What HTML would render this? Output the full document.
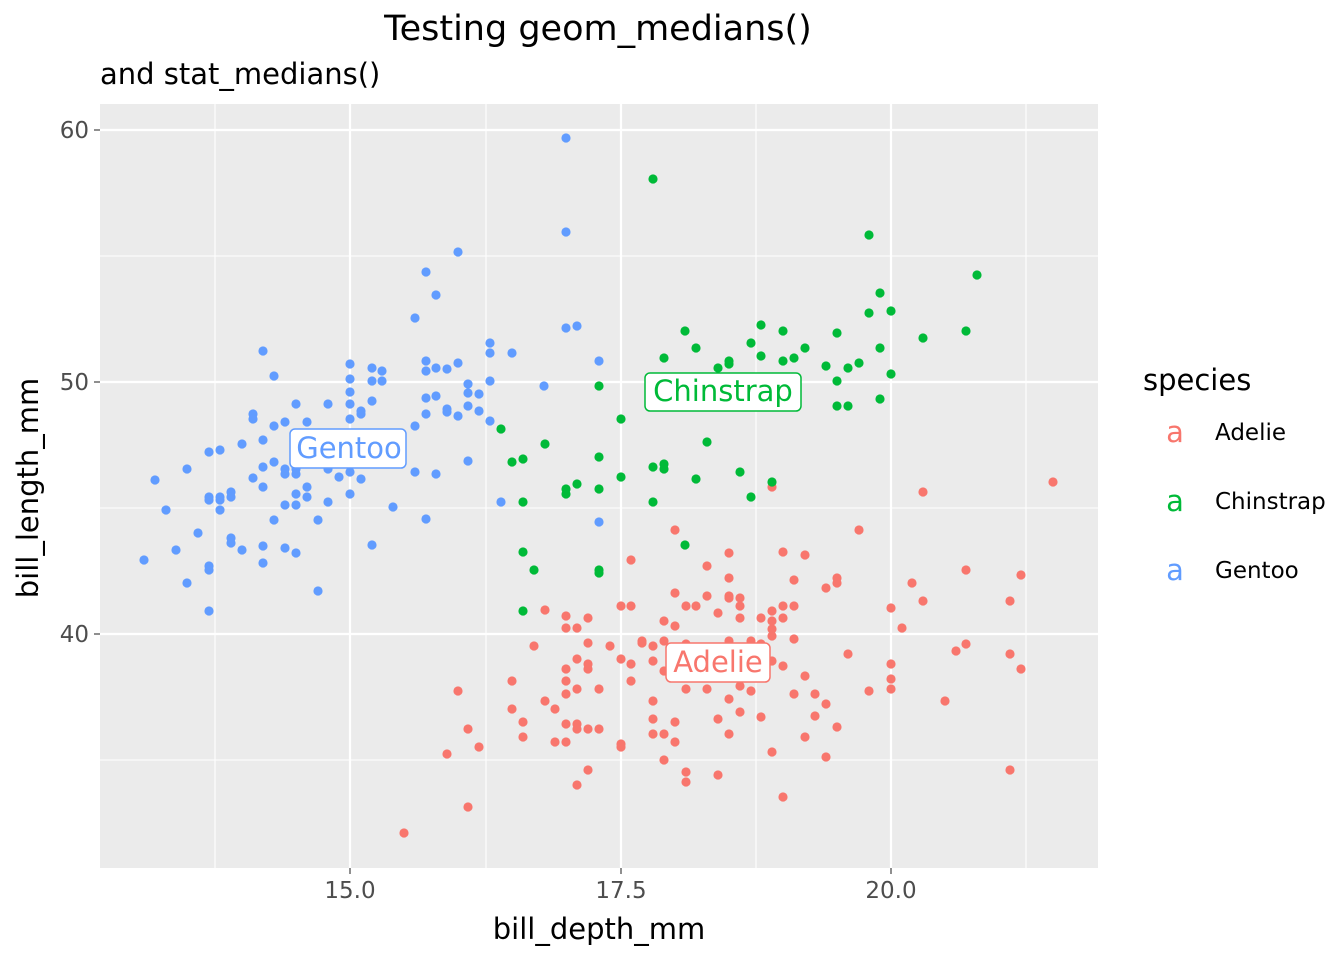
<!DOCTYPE html>
<html><head><meta charset="utf-8"><style>
html,body{margin:0;padding:0;background:#fff}
svg text{font-family:"DejaVu Sans","Liberation Sans",sans-serif}
</style></head><body>
<svg id="s" width="1344" height="960" xmlns="http://www.w3.org/2000/svg">
<rect width="1344" height="960" fill="#fff"/>
<rect x="100" y="104" width="998" height="764" fill="#EBEBEB"/>
<g stroke="#fff" stroke-width="1.1">
<line x1="215" x2="215" y1="104" y2="868"/><line x1="486" x2="486" y1="104" y2="868"/>
<line x1="756" x2="756" y1="104" y2="868"/><line x1="1026" x2="1026" y1="104" y2="868"/>
<line x1="100" x2="1098" y1="256" y2="256"/><line x1="100" x2="1098" y1="508" y2="508"/><line x1="100" x2="1098" y1="760" y2="760"/>
</g>
<g stroke="#fff" stroke-width="2.2">
<line x1="350" x2="350" y1="104" y2="868"/><line x1="621" x2="621" y1="104" y2="868"/><line x1="891" x2="891" y1="104" y2="868"/>
<line x1="100" x2="1098" y1="130" y2="130"/><line x1="100" x2="1098" y1="382" y2="382"/><line x1="100" x2="1098" y1="634" y2="634"/>
</g>
<g id="pts"></g>
<g font-size="29">
<rect x="290" y="429" width="116" height="39" rx="5" fill="#fff" stroke="#619CFF" stroke-width="1.5"/>
<text x="349" y="458" text-anchor="middle" fill="#619CFF">Gentoo</text>
<rect x="645" y="373" width="156" height="38" rx="5" fill="#fff" stroke="#00BA38" stroke-width="1.5"/>
<text x="723" y="401" text-anchor="middle" fill="#00BA38">Chinstrap</text>
<rect x="666" y="643" width="104" height="39" rx="5" fill="#fff" stroke="#F8766D" stroke-width="1.5"/>
<text x="718" y="672" text-anchor="middle" fill="#F8766D">Adelie</text>
</g>
<g stroke="#333" stroke-width="1.1">
<line x1="350" x2="350" y1="868" y2="874"/><line x1="621" x2="621" y1="868" y2="874"/><line x1="891" x2="891" y1="868" y2="874"/>
<line x1="94" x2="100" y1="130" y2="130"/><line x1="94" x2="100" y1="382" y2="382"/><line x1="94" x2="100" y1="634" y2="634"/>
</g>
<g font-size="23" fill="#4D4D4D">
<text x="350" y="898" text-anchor="middle">15.0</text><text x="621" y="898" text-anchor="middle">17.5</text><text x="891" y="898" text-anchor="middle">20.0</text>
<text x="89" y="138" text-anchor="end">60</text><text x="89" y="390" text-anchor="end">50</text><text x="89" y="642" text-anchor="end">40</text>
</g>
<text x="599" y="939" font-size="29" text-anchor="middle">bill_depth_mm</text>
<text transform="translate(38,488) rotate(-90)" font-size="29" text-anchor="middle">bill_length_mm</text>
<text x="598" y="40" font-size="35" text-anchor="middle">Testing geom_medians()</text>
<text x="100" y="84" font-size="29">and stat_medians()</text>
<text x="1143" y="390" font-size="29">species</text>
<g font-size="29">
<text x="1175" y="442" text-anchor="middle" fill="#F8766D">a</text>
<text x="1175" y="511" text-anchor="middle" fill="#00BA38">a</text>
<text x="1175" y="580" text-anchor="middle" fill="#619CFF">a</text>
</g>
<g font-size="23">
<text x="1215" y="440">Adelie</text><text x="1215" y="509">Chinstrap</text><text x="1215" y="578">Gentoo</text>
</g>
</svg>
<script>
var G=[144,560,155,480,166,510,176,550,187,469,187,583,198,533,209,452,209,497,209,500,209,566,209,570,209,611,220,450,220,500,220,510,220,497,231,492,231,497,231,538,231,543,242,444,242,550,253,414,253,419,253,478,263,351,263,440,263,467,263,487,263,546,263,563,274,376,274,426,274,462,274,520,285,422,285,469,285,474,285,505,285,548,296,404,296,469,296,474,296,494,296,505,296,553,307,422,307,487,307,497,318,520,318,591,328,404,328,469,328,502,339,447,339,449,339,477,350,364,350,379,350,392,350,404,350,419,350,472,350,494,361,414,361,411,361,479,372,368,372,381,372,401,372,545,382,371,382,381,393,507,415,318,415,426,415,472,426,272,426,361,426,371,426,414,426,398,426,519,436,295,436,368,436,474,436,396,447,369,447,409,447,412,458,252,458,363,458,416,468,384,468,393,468,406,468,461,479,394,479,411,490,343,490,353,490,381,490,421,501,502,512,353,544,386,566,138,566,232,566,328,577,326,599,361,599,522,317,459,328,452,339,459,306,454];
var C=[501,429,512,462,523,459,523,502,523,552,523,611,534,570,545,444,566,489,566,494,577,484,599,386,599,457,599,489,599,570,599,573,621,419,621,477,653,179,653,467,653,502,664,358,664,464,664,469,685,331,685,545,696,348,696,479,707,442,718,368,729,361,740,472,751,343,751,497,761,325,761,356,772,482,783,331,783,361,794,358,805,348,826,366,837,333,837,381,837,406,848,368,848,406,859,363,869,235,869,313,880,293,880,348,880,399,891,311,891,374,923,338,966,331,977,275,729,364];
var A=[404,833,447,754,458,691,468,729,468,807,479,747,512,681,512,709,523,722,523,737,534,646,545,610,545,701,555,709,555,742,566,616,566,628,566,669,566,681,566,694,566,724,566,742,577,628,577,659,577,689,577,724,577,729,577,785,588,618,588,643,588,664,588,669,588,729,588,770,599,689,599,729,610,646,621,606,621,659,621,744,621,747,631,560,631,606,631,664,631,681,642,641,642,643,653,646,653,661,653,701,653,719,653,734,664,621,664,641,664,671,664,734,664,760,675,530,675,593,675,626,675,722,675,742,686,606,686,644,686,669,686,689,686,772,686,782,696,606,707,566,707,596,707,689,718,613,718,719,718,775,729,553,729,578,729,596,729,598,729,641,729,699,729,734,740,598,740,606,740,618,740,686,740,712,751,641,751,691,761,618,761,644,761,717,772,487,772,611,772,621,772,629,772,636,772,661,772,752,783,552,783,606,783,618,783,666,783,797,794,580,794,606,794,639,794,694,805,555,805,676,805,737,815,694,815,716,826,588,826,704,826,757,837,578,837,583,837,727,848,654,859,530,869,691,891,608,891,664,891,679,891,689,902,628,912,583,923,492,923,601,945,701,956,651,966,570,966,644,1010,601,1010,654,1010,770,1021,575,1021,669,1053,482];
var g=document.getElementById('pts'),h='';
function add(a,c){for(var i=0;i<a.length;i+=2)h+='<circle cx="'+a[i]+'" cy="'+a[i+1]+'" r="4.6" fill="'+c+'"/>';}
add(A,'#F8766D');add(C,'#00BA38');add(G,'#619CFF');
g.innerHTML=h;
</script>
</body></html>
